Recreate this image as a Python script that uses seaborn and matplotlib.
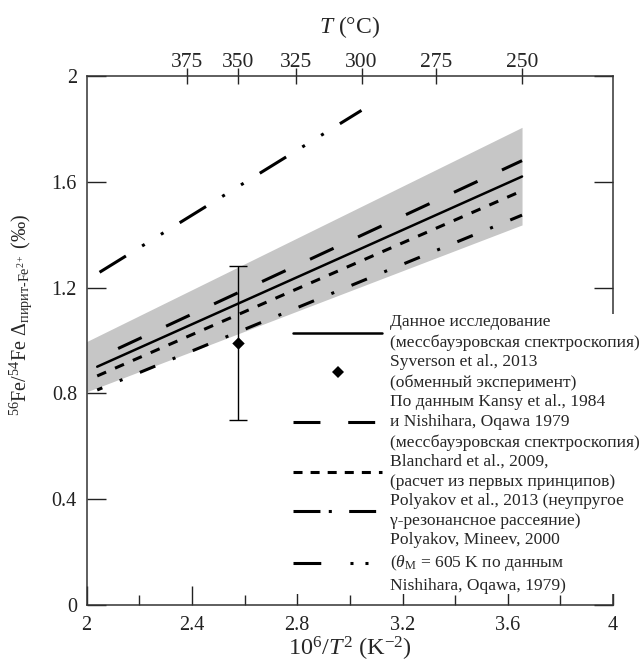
import matplotlib
matplotlib.use('Agg')
import matplotlib.pyplot as plt
import seaborn as sns
from matplotlib.lines import Line2D
from matplotlib.ticker import MultipleLocator, FuncFormatter

sns.set_theme(style='ticks')
plt.rcParams['font.family'] = ['Liberation Serif', 'DejaVu Serif']
plt.rcParams['mathtext.fontset'] = 'custom'
plt.rcParams['mathtext.rm'] = 'Liberation Serif'
plt.rcParams['mathtext.it'] = 'Liberation Serif:italic'
plt.rcParams['mathtext.bf'] = 'Liberation Serif:bold'
plt.rcParams['lines.scale_dashes'] = False
plt.rcParams['axes.edgecolor'] = '#333333'

# ---------------- data ----------------
band_x = [2.0, 3.654]
band_upper = [0.996, 1.806]
band_lower = [0.806, 1.437]

line_x = [2.04, 3.654]
this_study = [0.901, 1.620]
kansy = [0.933, 1.680]
blanchard = [0.866, 1.566]
polyakov2013 = [0.813, 1.474]

pm_x = [2.049, 3.044]
polyakov_mineev = [1.258, 1.870]

syverson_x = [2.575]
syverson_y = [0.99]
syverson_err = [0.29]

top_T = [375, 350, 325, 300, 275, 250]

labels = [
    "Данное исследование\n(мессбауэровская спектроскопия)",
    "Syverson et al., 2013\n(обменный эксперимент)",
    "По данным Kansy et al., 1984\nи Nishihara, Oqawa 1979\n(мессбауэровская спектроскопия)",
    "Blanchard et al., 2009,\n(расчет из первых принципов)",
    "Polyakov et al., 2013 (неупругое\nγ-резонансное рассеяние)",
    "Polyakov, Mineev, 2000\n($\\theta_{\\mathrm{М}}$ = 605 K по данным\nNishihara, Oqawa, 1979)",
]

# ---------------- styles ----------------
ls_kansy = (21.5, (18.7, 19.4))
ls_blan = (0, (7.0, 7.0))
ls_p13 = (8.0, (12.0, 13.5, 2.2, 13.5))
ls_pm = (0, (22.3, 13.7, 2.2, 13.7, 2.2, 13.7))

fig = plt.figure(figsize=(6.42, 6.65), dpi=100)
ax = fig.add_axes([0.135, 0.0902, 0.820, 0.7955])

ax.fill_between(band_x, band_lower, band_upper, color='#c6c6c6', lw=0, zorder=1)

sns.lineplot(x=line_x, y=this_study, ax=ax, color='black', lw=1.8, linestyle='-', zorder=3)
sns.lineplot(x=line_x, y=kansy, ax=ax, color='black', lw=2.2, linestyle=ls_kansy, zorder=3)
sns.lineplot(x=line_x, y=blanchard, ax=ax, color='black', lw=2.2, linestyle=ls_blan, zorder=3)
sns.lineplot(x=line_x, y=polyakov2013, ax=ax, color='black', lw=2.2, linestyle=ls_p13, zorder=3)
sns.lineplot(x=pm_x, y=polyakov_mineev, ax=ax, color='black', lw=2.2, linestyle=ls_pm, zorder=3)

ax.errorbar(syverson_x, syverson_y, yerr=syverson_err, fmt='none', ecolor='black',
            elinewidth=1.0, capsize=6.5, capthick=1.0, zorder=4)
sns.scatterplot(x=syverson_x, y=syverson_y, ax=ax, marker='D', s=40, color='black',
                linewidth=0, zorder=5)

ax.set_xlim(2, 4)
ax.set_ylim(0, 2)
ax.xaxis.set_major_locator(MultipleLocator(0.4))
ax.xaxis.set_minor_locator(MultipleLocator(0.2))
ax.yaxis.set_major_locator(MultipleLocator(0.4))
ax.yaxis.set_minor_locator(MultipleLocator(0.2))
fmt = FuncFormatter(lambda v, p: f"{v:g}")
ax.xaxis.set_major_formatter(fmt)
ax.yaxis.set_major_formatter(fmt)
ax.tick_params(which='major', direction='in', length=13.7, width=1.0, labelsize=14.5,
               right=True, top=False, colors='#222222')
ax.tick_params(which='minor', direction='in', length=7.2, width=1.0, right=True, top=False)
ax.tick_params(axis='x', which='major', pad=8)
ax.tick_params(axis='y', which='major', pad=7)
for s in ax.spines.values():
    s.set_linewidth(1.1)
    s.set_visible(True)

ax.set_xlabel('10$^{6}$/$T^{2}$ (K$^{-2}$)', fontsize=17.5, labelpad=0)
ax.set_ylabel('$^{56}$Fe/$^{54}$Fe $\\Delta_{\\mathrm{пирит‐Fe}^{2+}}$ ($\\mathit{‰}$)', fontsize=14.5)
ax.yaxis.set_label_coords(-0.100, 0.548)

ax2 = ax.twiny()
ax2.set_xlim(ax.get_xlim())
ax2.set_xticks([1e6 / (t + 273.15) ** 2 for t in top_T])
ax2.set_xticklabels([str(t) for t in top_T])
ax2.minorticks_off()
ax2.tick_params(direction='inout', length=12, width=1.0, labelsize=15.5, pad=-3)
ax2.set_xlabel('$T$ (°C)', fontsize=17, labelpad=14)
for s in ax2.spines.values():
    s.set_visible(False)
ax2.set_zorder(ax.get_zorder() - 1)
ax.patch.set_visible(False)

handles = [
    Line2D([], [], color='black', lw=1.8, linestyle='-'),
    Line2D([], [], color='black', lw=0, marker='D', markersize=6.5, markeredgewidth=0),
    Line2D([], [], color='black', lw=2.2, linestyle=(0, (19.4, 20.0))),
    Line2D([], [], color='black', lw=2.2, linestyle=(0, (6.5, 5.8))),
    Line2D([], [], color='black', lw=2.2, linestyle=(0, (19.4, 6.0, 2.2, 12.5))),
    Line2D([], [], color='black', lw=2.2, linestyle=(0, (20.0, 21.0, 2.2, 8.6, 2.2, 30))),
]
leg = ax.legend(handles, labels, loc='upper left', bbox_to_anchor=(0.392, 0.550),
                frameon=True, fancybox=False, facecolor='white', edgecolor='none',
                framealpha=1.0, fontsize=12.6, handlelength=5.1, handletextpad=0.45,
                labelspacing=0.15, borderpad=0, borderaxespad=0)
leg.set_zorder(10)
for t in leg.get_texts():
    t.set_linespacing(1.37)

fig.savefig('out.png', dpi=100)
